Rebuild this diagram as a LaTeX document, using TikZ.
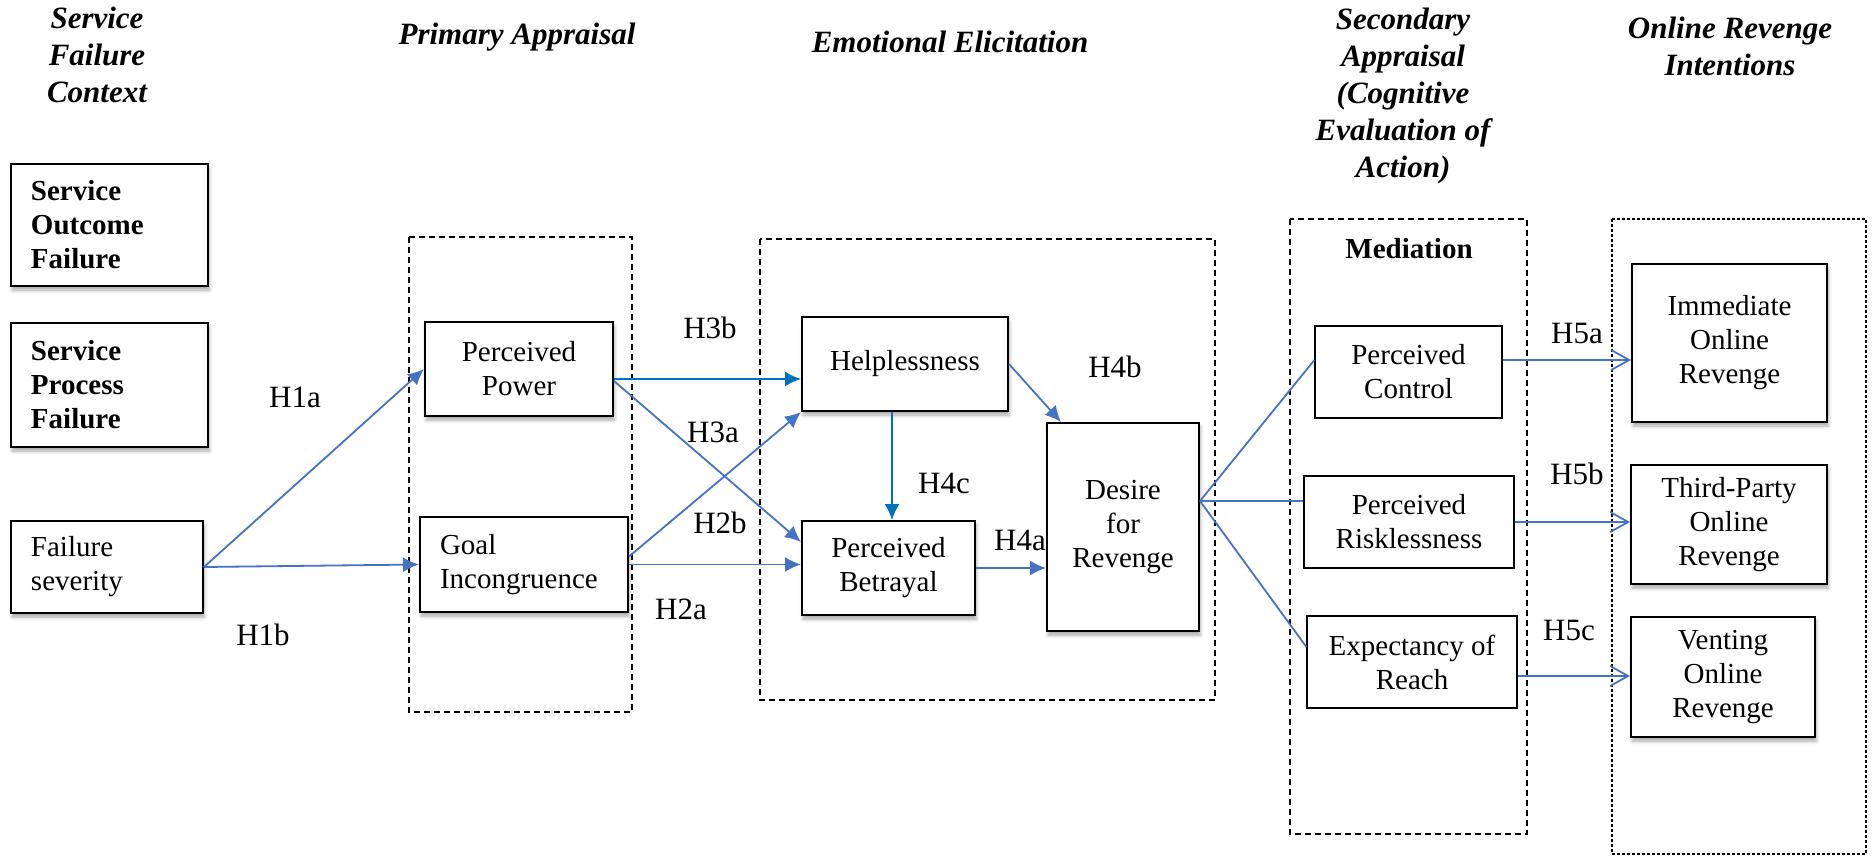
\documentclass[tikz,border=0pt]{standalone}
\usepackage{fontspec}
\setmainfont{Liberation Serif}
\usetikzlibrary{arrows.meta,shadows.blur}
\definecolor{lineblue}{RGB}{68,114,196}
\definecolor{deepblue}{RGB}{0,112,192}
\newcommand{\cellfont}{\fontsize{14.5}{17}\selectfont}
\newcommand{\stagefont}{\fontsize{15.5}{18.5}\selectfont\bfseries\itshape}
\newcommand{\hypfont}{\fontsize{15.5}{18}\selectfont}
\tikzset{
  box/.style={draw,line width=1pt,fill=white,align=center,font=\cellfont,
    blur shadow={shadow xshift=0.6pt,shadow yshift=-2pt,shadow blur radius=1.8pt,shadow opacity=35}},
  lbox/.style={box,align=left,inner xsep=10pt},
  mbox/.style={draw,line width=0.6pt,fill=white,align=center,font=\cellfont},
  frame/.style={draw,line width=1pt,dash pattern=on 3pt off 2pt},
  stage/.style={font=\stagefont,align=center},
  hyp/.style={font=\hypfont},
  link/.style={->,draw=lineblue,line width=0.9pt},
  open/.style={-{Straight Barb[length=9pt,width=10pt]},draw=lineblue,line width=0.9pt}
}
\begin{document}
\begin{tikzpicture}[x=0.5pt,y=-0.5pt,>={Latex[length=8pt,width=7.5pt]}]
\useasboundingbox (0,0) rectangle (1872,856);
\node[stage] (hctx) at (97,55) {Service\\Failure\\Context};
\node[stage] (hpri) at (517,37) {Primary Appraisal};
\node[stage] (hemo) at (950,42) {Emotional Elicitation};
\node[stage] (hsec) at (1403,96) {Secondary\\Appraisal\\(Cognitive\\Evaluation of\\Action)};
\node[stage] (hout) at (1730,46) {Online Revenge\\Intentions};
\draw[frame] (409,237) rectangle (632,712);
\draw[frame] (760,239) rectangle (1215,700);
\draw[frame] (1290,219) rectangle (1527,834);
\draw[frame,dash pattern=on 1.5pt off 1pt] (1612,219) rectangle (1866,854);
\node[font=\cellfont\bfseries] (med) at (1409,249) {Mediation};
\node[lbox,font=\cellfont\bfseries,text width=78.5pt,minimum height=61pt] (sof) at (109.5,225) {Service\\Outcome\\Failure};
\node[lbox,font=\cellfont\bfseries,text width=78.5pt,minimum height=62pt] (spf) at (109.5,385) {Service\\Process\\Failure};
\node[lbox,text width=76pt,minimum height=46pt] (fs) at (107,567) {Failure\\severity};
\node[box,minimum width=94pt,minimum height=47pt] (pp) at (519,369) {Perceived\\Power};
\node[lbox,text width=84pt,minimum height=47.5pt] (gi) at (524,564.5) {Goal\\Incongruence};
\node[box,minimum width=103pt,minimum height=47pt] (help) at (905,364) {Helplessness};
\node[box,minimum width=86.5pt,minimum height=47pt] (betr) at (888.5,568) {Perceived\\Betrayal};
\node[box,minimum width=76pt,minimum height=104pt] (des) at (1123,527) {Desire\\for\\Revenge};
\node[mbox,minimum width=93.5pt,minimum height=46pt] (pc) at (1408.5,372) {Perceived\\Control};
\node[mbox,minimum width=105pt,minimum height=46pt] (pr) at (1409,522) {Perceived\\Risklessness};
\node[mbox,minimum width=105pt,minimum height=46pt] (er) at (1412,662) {Expectancy of\\Reach};
\node[box,minimum width=97.5pt,minimum height=79pt] (ior) at (1729.5,343) {Immediate\\Online\\Revenge};
\node[box,minimum width=98pt,minimum height=59.5pt] (tpr) at (1729,524.5) {Third-Party\\Online\\Revenge};
\node[box,minimum width=92pt,minimum height=60pt] (vor) at (1723,677) {Venting\\Online\\Revenge};
\node[hyp] (h1a) at (295,397) {H1a};
\node[hyp] (h1b) at (263,635) {H1b};
\node[hyp] (h3b) at (710,328) {H3b};
\node[hyp] (h3a) at (713,432) {H3a};
\node[hyp] (h2b) at (720,523) {H2b};
\node[hyp] (h2a) at (681,609) {H2a};
\node[hyp] (h4c) at (944,483) {H4c};
\node[hyp] (h4a) at (1020,540) {H4a};
\node[hyp] (h4b) at (1115,367) {H4b};
\node[hyp] (h5a) at (1577,333) {H5a};
\node[hyp] (h5b) at (1577,474) {H5b};
\node[hyp] (h5c) at (1569,630) {H5c};
\draw[link] (fs.east) -- (pp.west);
\draw[link] (fs.east) -- (gi.west);
\draw[link,draw=deepblue] ([yshift=-5pt]pp.east) -- ([yshift=-5pt]pp.east -| help.west);
\draw[link] ([yshift=-6pt]pp.east) -- ([yshift=13pt]betr.west);
\draw[link] ([yshift=4pt]gi.east) -- (help.south west);
\draw[link] (gi.east) -- (gi.east -| betr.west);
\draw[link,draw=deepblue] ([xshift=-6.5pt]help.south) -- ([xshift=-6.5pt]help.south |- betr.north);
\draw[link] (help.east) -- ([xshift=7.5pt]des.north west);
\draw[link] (betr.east) -- (betr.east -| des.west);
\coordinate (dout) at ([yshift=13pt]des.east);
\draw[link,-] (dout) -- ([yshift=6pt]pc.west);
\draw[link,-] (dout) -- (dout -| pr.west);
\draw[link,-] (dout) -- ([yshift=7.5pt]er.west);
\draw[open] ([yshift=6pt]pc.east) -- ([yshift=6pt]pc.east -| ior.west);
\draw[open] (pr.east) -- (pr.east -| tpr.west);
\draw[open] ([yshift=-7pt]er.east) -- ([yshift=-7pt]er.east -| vor.west);
\end{tikzpicture}
\end{document}
